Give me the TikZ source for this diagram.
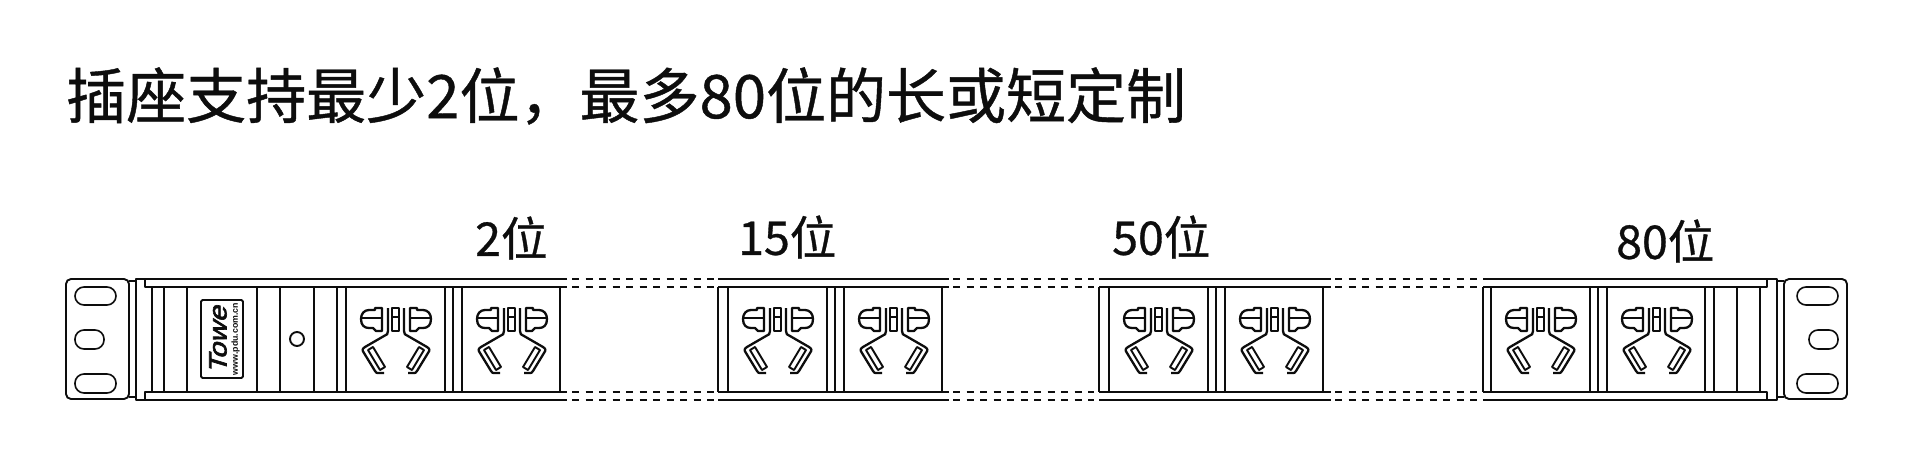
\documentclass[tikz,border=0pt]{standalone}
\usepackage{fontspec}
\setmainfont{Liberation Sans}
\newfontfamily\cjk[FakeBold=0.7]{Noto Sans CJK SC}
\newfontfamily\logofont[FakeBold=2.6,FakeSlant=0.3,FakeStretch=1.15]{Liberation Sans}
\definecolor{ink}{HTML}{0D0D0D}
\tikzset{
 x=1pt,y=-1pt,
 ln/.style={draw=ink,line width=1.9pt,line join=round},
 slotln/.style={draw=ink,line width=1.6pt,rounded corners=9pt},
 thin ln/.style={draw=ink,line width=1.9pt,line join=round,line cap=round},
 cont ln/.style={draw=ink,line width=2.3pt,line join=round},
 dashln/.style={draw=ink,line width=1.9pt,dash pattern=on 7pt off 6.5pt},
 lbl/.style={inner sep=0pt,text=ink,font=\cjk\fontsize{46.5}{46.5}\selectfont},
 outlet/.pic={
  \foreach \m in {1,-1}{
   \begin{scope}[xscale=\m]
   % D shaped pin
   \draw[cont ln] (-14,308) -- (-21,308) -- (-21,310) -- (-27,310) .. controls (-32,310) and (-35,314) .. (-35,319) .. controls (-35,325) and (-32,328) .. (-27,328) -- (-23,328) .. controls (-22,329) and (-21,330) .. (-20,331) -- (-14,331) -- cycle;
   \draw[thin ln] (-34,318) -- (-14,318);
   % earth contour
   \draw[cont ln] (-8,308) -- (-8,331) .. controls (-8,334) and (-9,335) .. (-12,336) -- (-31,347) .. controls (-34,349) and (-34,350) .. (-32,353) -- (-21,371) .. controls (-20,373) and (-19,373) .. (-18,373) -- (-12,373);
   % angled slot
   \draw[thin ln] (-28,350) -- (-23,347) -- (-11,367) -- (-16,370) -- cycle;
   \end{scope}
  }
  \draw[thin ln] (-4,308) rectangle (3,331);
  \draw[thin ln] (-4,317) -- (3,317);
 },
 panelset/.pic={
  \foreach \v in {0,99,107,116,214}{\draw[ln] (\v,287) -- (\v,392);}
  \pic at (50,0) {outlet};
  \pic at (166,0) {outlet};
 },
}
\begin{document}
\begin{tikzpicture}
\useasboundingbox[fill=white] (0,0) rectangle (1920,471);
% title and labels
\node[anchor=west,inner sep=0pt,text=ink,font=\cjk\fontsize{60}{60}\selectfont] (title) at (66,96) {插座支持最少2位\char"FF0C 最多80位的长或短定制};
\node[lbl,anchor=west] (l2) at (475,238) {2位};
\node[lbl,anchor=west] (l15) at (738,237) {15位};
\node[lbl,anchor=west] (l50) at (1112,237) {50位};
\node[lbl,anchor=west] (l80) at (1616,241) {80位};
% left bracket
\draw[ln,rounded corners=5pt] (66,279) rectangle (129,399);
\draw[slotln] (75,287) rectangle (116,305);
\draw[slotln] (75,330) rectangle (104,349);
\draw[slotln] (75,374) rectangle (116,393);
\draw[ln] (129,281) -- (135,281);
\draw[ln] (129,397) -- (135,397);
% right bracket
\draw[ln,rounded corners=5pt] (1784,279) rectangle (1847,399);
\draw[slotln] (1797,287) rectangle (1838,305);
\draw[slotln] (1809,330) rectangle (1838,349);
\draw[slotln] (1797,374) rectangle (1838,393);
\draw[ln] (1777,281) -- (1784,281);
\draw[ln] (1777,397) -- (1784,397);
% housing: end pieces
\draw[ln] (567,279) -- (136,279) -- (136,400) -- (567,400);
\draw[ln] (1483,279) -- (1777,279) -- (1777,400) -- (1483,400);
\draw[ln] (145,279) -- (145,287) -- (567,287);
\draw[ln] (145,400) -- (145,392) -- (567,392);
\draw[ln] (1767,279) -- (1767,287) -- (1483,287);
\draw[ln] (1767,400) -- (1767,392) -- (1483,392);
% middle groups rails
\foreach \a/\b in {718/949,1099/1331}{
  \foreach \yy in {279,287,392,400}{\draw[ln] (\a,\yy) -- (\b,\yy);}
  \draw[ln] (\a,287) -- (\a,392);
}
\draw[ln] (1483,287) -- (1483,392);
% dashes
\foreach \a/\b in {572/714,953/1094,1335/1479}{
  \foreach \yy in {279,287,392,400}{\draw[dashln] (\a,\yy) -- (\b,\yy);}
}
% ribs
\foreach \v in {152,164,187,257,280,314,337}{\draw[ln] (\v,287) -- (\v,392);}
\foreach \v in {1714,1737,1760}{\draw[ln] (\v,287) -- (\v,392);}
% label plate
\draw[ln,rounded corners=1.5pt] (201,300) rectangle (243,378);
\node[rotate=90,inner sep=0pt,text=ink,font=\logofont\fontsize{25}{25}\selectfont] (logo) at (218,340) {Towe};
\node[rotate=90,inner sep=0pt,text=ink,font=\bfseries\fontsize{8.8}{8.8}\selectfont] (url) at (235.5,339) {www.pdu.com.cn};
\draw[ln] (297,339) circle (7);
% sockets
\pic at (346,0) {panelset};
\pic at (728,0) {panelset};
\pic at (1109,0) {panelset};
\pic at (1491,0) {panelset};
\end{tikzpicture}
\end{document}
